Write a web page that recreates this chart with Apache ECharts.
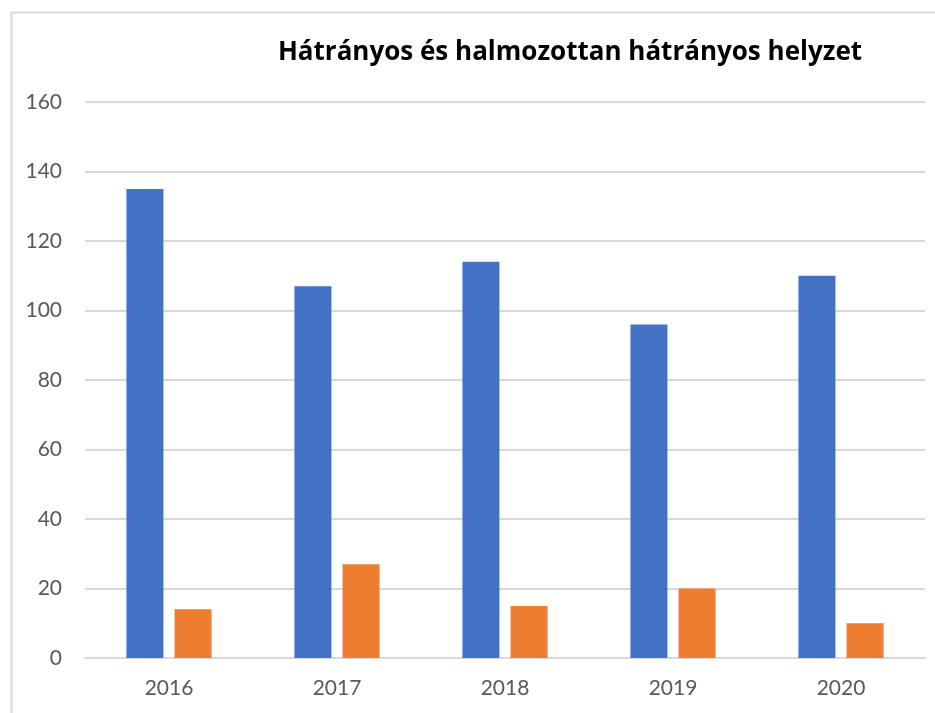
<!DOCTYPE html>
<html>
<head>
<meta charset="utf-8">
<script src="https://cdn.jsdelivr.net/npm/echarts@6/dist/echarts.min.js"></script>
<style>
  html, body { margin: 0; padding: 0; background: #fff; }
  #chart { width: 935px; height: 713px; }
</style>
</head>
<body>
<div id="chart"></div>
<script>
// Data
var years = ['2016', '2017', '2018', '2019', '2020'];
var hatranyos = [135, 107, 114, 96, 110];
var halmozottan = [14, 27, 15, 20, 10];
var yTicks = { min: 0, max: 160, interval: 20 };

var chart = echarts.init(document.getElementById('chart'));

chart.setOption({
    animation: false,
    textStyle: {
        fontFamily: 'Lato, "Open Sans", sans-serif'
    },

    // Chart border (cropped at right and bottom)
    graphic: [{
        type: 'rect',
        left: 9,
        top: 10,
        shape: { width: 960, height: 740 },
        style: { fill: 'none', stroke: '#d9d9d9', lineWidth: 2 },
        silent: true
    }],

    title: {
        text: 'Hátrányos és halmozottan hátrányos helyzet',
        left: 565,
        textAlign: 'center',
        top: 35,
        textStyle: {
            fontFamily: '"Open Sans", sans-serif',
            fontSize: 26,
            fontWeight: 'bold',
            color: '#000'
        }
    },

    grid: {
        left: 85,
        right: 10,
        top: 102,
        bottom: 55
    },

    xAxis: {
        type: 'category',
        data: years,
        axisTick: { show: false },
        axisLine: { lineStyle: { color: '#d9d9d9', width: 2 } },
        axisLabel: {
            color: '#595959',
            fontSize: 21,
            margin: 20
        }
    },

    yAxis: {
        type: 'value',
        min: yTicks.min,
        max: yTicks.max,
        interval: yTicks.interval,
        axisLine: { show: false },
        axisTick: { show: false },
        axisLabel: {
            color: '#595959',
            fontSize: 21,
            margin: 23
        },
        splitLine: { lineStyle: { color: '#d9d9d9', width: 2 } }
    },

    series: [
        {
            name: 'Hátrányos',
            type: 'bar',
            data: hatranyos,
            barWidth: 37,
            barGap: '30%',
            itemStyle: { color: '#4472c4' }
        },
        {
            name: 'Halmozottan hátrányos',
            type: 'bar',
            data: halmozottan,
            barWidth: 37,
            itemStyle: { color: '#ed7d31' }
        }
    ]
});
</script>
</body>
</html>
